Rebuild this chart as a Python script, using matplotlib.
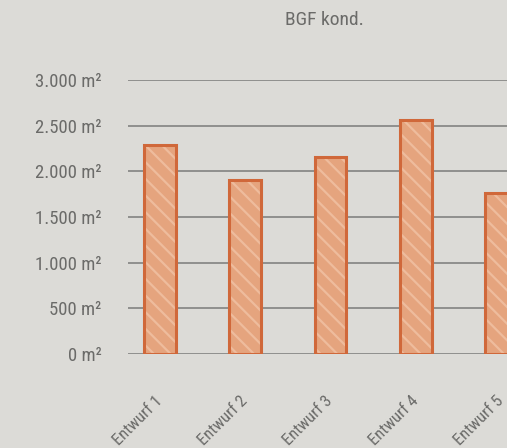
import matplotlib.pyplot as plt
from matplotlib.transforms import ScaledTranslation

categories = ['Entwurf 1', 'Entwurf 2', 'Entwurf 3', 'Entwurf 4', 'Entwurf 5']
values = [2290, 1905, 2160, 2565, 1765]
yticks = [0, 500, 1000, 1500, 2000, 2500, 3000]
ytick_labels = ['0 m²', '500 m²', '1.000 m²', '1.500 m²', '2.000 m²', '2.500 m²', '3.000 m²']

bg = '#dcdbd7'
txt = '#6b6b69'
plt.rcParams['font.family'] = ['Roboto Condensed', 'DejaVu Sans']
plt.rcParams['hatch.linewidth'] = 1.6

fig = plt.figure(figsize=(5.07, 4.48), dpi=100, facecolor=bg)
ax = fig.add_axes([128/507, 94/448, 405/507, 274/448])
ax.set_facecolor(bg)

x = range(len(categories))
# fill + light hatch, then the dark outline on top
ax.bar(x, values, width=0.375, color='#e5a47e', edgecolor='#eebc9d',
       hatch='\\\\', linewidth=0, zorder=3)
ax.bar(x, values, width=0.375, fill=False, edgecolor='#d0683a',
       linewidth=2.2, zorder=4)

ax.set_xlim(-0.375, 4.375)
ax.set_ylim(0, 3000)
ax.set_yticks(yticks)
ax.set_yticklabels(ytick_labels)
ax.set_xticks(list(x))
ax.set_xticklabels(categories, rotation=45, ha='right', va='center',
                   rotation_mode='anchor')
ax.tick_params(axis='y', length=0, pad=19, labelsize=13.5, labelcolor=txt)
ax.tick_params(axis='x', length=0, pad=32, labelsize=12, labelcolor=txt)
shift = ScaledTranslation(0, 0, fig.dpi_scale_trans)
for lab in ax.get_xticklabels():
    lab.set_transform(lab.get_transform() + shift)
ax.grid(axis='y', color='#8a8a88', linewidth=1.3, zorder=1)
ax.set_axisbelow(True)
for s in ax.spines.values():
    s.set_visible(False)

fig.text(324/507, 1 - 20/448, 'BGF kond.', ha='center', va='center',
         fontsize=14, color=txt)

fig.savefig('out.png', dpi=100, facecolor=bg)
